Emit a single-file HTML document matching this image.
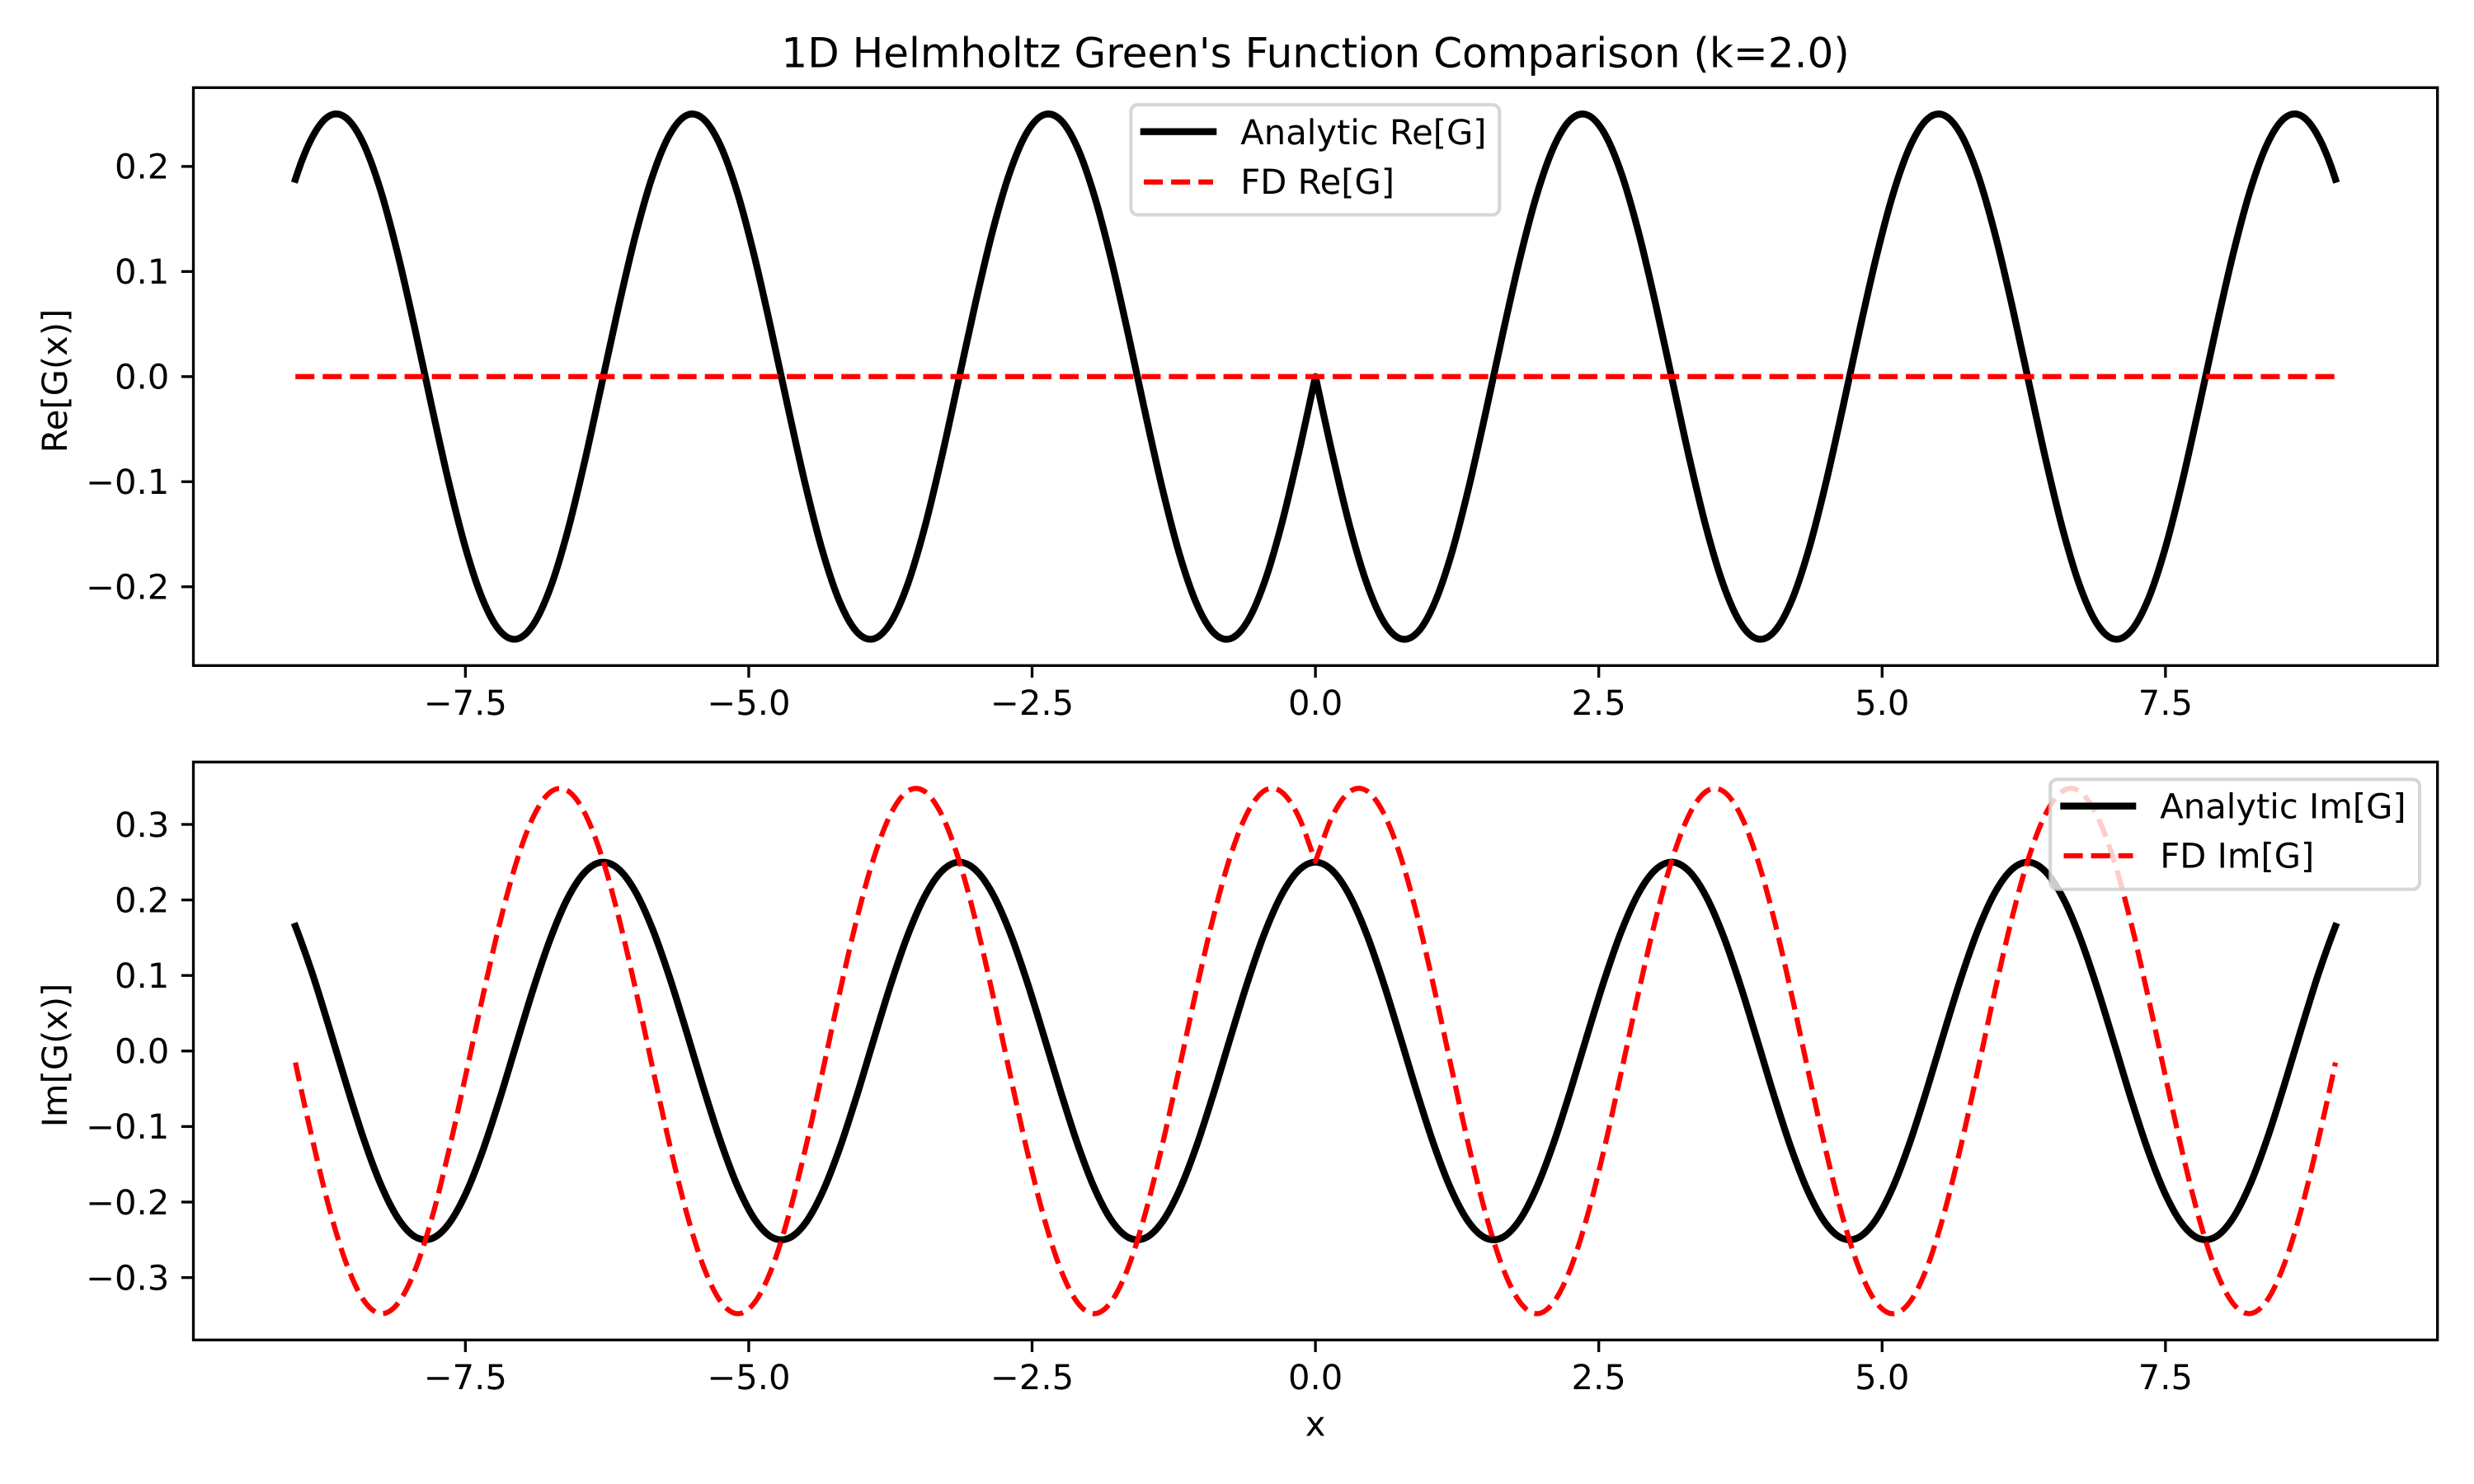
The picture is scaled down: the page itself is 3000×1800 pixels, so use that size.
<!DOCTYPE html>
<html lang="en">
<head>
<meta charset="utf-8">
<title>1D Helmholtz Green's Function Comparison</title>
<style>
html,body{margin:0;padding:0;background:#fff;}
svg{display:block;font-family:"DejaVu Sans","Liberation Sans",sans-serif;text-rendering:geometricPrecision;}
text{fill:#000;}
</style>
</head>
<body>
<svg id="chart" xmlns="http://www.w3.org/2000/svg" width="3000" height="1800" viewBox="0 0 3000 1800">
  <rect x="0" y="0" width="3000" height="1800" fill="#fff"/>
  <text x="1595.1" y="81.3" font-size="50" text-anchor="middle">1D Helmholtz Green's Function Comparison (k=2.0)</text>

  <g id="top-series"></g>
  <g id="bottom-series"></g>

  <g id="top-axes"></g>
  <g id="bottom-axes"></g>

  <text transform="translate(81 462) rotate(-90)" font-size="41.67" text-anchor="middle">Re[G(x)]</text>
  <text transform="translate(81 1280) rotate(-90)" font-size="41.67" text-anchor="middle">Im[G(x)]</text>
  <text x="1595.1" y="1741.7" font-size="41.67" text-anchor="middle">x</text>

  <g>
    <rect x="1371.4" y="127.1" width="446.9" height="133.5" rx="8.3" ry="8.3" fill="#fff" fill-opacity="0.8" stroke="#ccc" stroke-opacity="0.8" stroke-width="4.17"/>
    <line x1="1382.7" y1="159.7" x2="1475.3" y2="159.7" stroke="#000" stroke-width="8.33"/>
    <text x="1504.3" y="175" font-size="41.67">Analytic Re[G]</text>
    <line x1="1387" y1="220.7" x2="1471" y2="220.7" stroke="#f00" stroke-width="6.25" stroke-dasharray="23.1 10"/>
    <text x="1504.3" y="235" font-size="41.67">FD Re[G]</text>
  </g>

  <g>
    <rect x="2486.2" y="945.3" width="447.9" height="133.4" rx="8.3" ry="8.3" fill="#fff" fill-opacity="0.8" stroke="#ccc" stroke-opacity="0.8" stroke-width="4.17"/>
    <line x1="2498.3" y1="977.7" x2="2590.3" y2="977.7" stroke="#000" stroke-width="8.33"/>
    <text x="2619.3" y="992.6" font-size="41.67">Analytic Im[G]</text>
    <line x1="2502.5" y1="1038" x2="2586.5" y2="1038" stroke="#f00" stroke-width="6.25" stroke-dasharray="23.1 10"/>
    <text x="2619.3" y="1052.7" font-size="41.67">FD Im[G]</text>
  </g>
</svg>

<script>
const xValues = [-9,-8.85,-8.7,-8.55,-8.4,-8.25,-8.1,-7.95,-7.8,-7.65,-7.5,-7.35,-7.2,-7.05,-6.9,-6.75,-6.6,-6.45,-6.3,-6.15,-6,-5.85,-5.7,-5.55,-5.4,-5.25,-5.1,-4.95,-4.8,-4.65,-4.5,-4.35,-4.2,-4.05,-3.9,-3.75,-3.6,-3.45,-3.3,-3.15,-3,-2.85,-2.7,-2.55,-2.4,-2.25,-2.1,-1.95,-1.8,-1.65,-1.5,-1.35,-1.2,-1.05,-0.9,-0.75,-0.6,-0.45,-0.3,-0.15,0,0.15,0.3,0.45,0.6,0.75,0.9,1.05,1.2,1.35,1.5,1.65,1.8,1.95,2.1,2.25,2.4,2.55,2.7,2.85,3,3.15,3.3,3.45,3.6,3.75,3.9,4.05,4.2,4.35,4.5,4.65,4.8,4.95,5.1,5.25,5.4,5.55,5.7,5.85,6,6.15,6.3,6.45,6.6,6.75,6.9,7.05,7.2,7.35,7.5,7.65,7.8,7.95,8.1,8.25,8.4,8.55,8.7,8.85,9];

const analyticRe = [0.1877,0.2281,0.2482,0.2460,0.2219,0.1779,0.1181,0.0477,-0.0269,-0.0992,-0.1626,-0.2114,-0.2414,-0.2498,-0.2359,-0.2009,-0.1480,-0.0819,-0.0084,0.0658,0.1341,0.1905,0.2298,0.2486,0.2452,0.2199,0.1750,0.1144,0.0436,-0.0311,-0.1030,-0.1657,-0.2137,-0.2425,-0.2496,-0.2345,-0.1984,-0.1446,-0.0779,-0.0042,0.0699,0.1377,0.1932,0.2315,0.2490,0.2444,0.2179,0.1719,0.1106,0.0394,-0.0353,-0.1068,-0.1689,-0.2158,-0.2435,-0.2494,-0.2330,-0.1958,-0.1412,-0.0739,0,-0.0739,-0.1412,-0.1958,-0.2330,-0.2494,-0.2435,-0.2158,-0.1689,-0.1068,-0.0353,0.0394,0.1106,0.1719,0.2179,0.2444,0.2490,0.2315,0.1932,0.1377,0.0699,-0.0042,-0.0779,-0.1446,-0.1984,-0.2345,-0.2496,-0.2425,-0.2137,-0.1657,-0.1030,-0.0311,0.0436,0.1144,0.1750,0.2199,0.2452,0.2486,0.2298,0.1905,0.1341,0.0658,-0.0084,-0.0819,-0.1480,-0.2009,-0.2359,-0.2498,-0.2414,-0.2114,-0.1626,-0.0992,-0.0269,0.0477,0.1181,0.1779,0.2219,0.2460,0.2482,0.2281,0.1877];

const fdRe = [0,0,0,0,0,0,0,0,0,0,0,0,0,0,0,0,0,0,0,0,0,0,0,0,0,0,0,0,0,0,0,0,0,0,0,0,0,0,0,0,0,0,0,0,0,0,0,0,0,0,0,0,0,0,0,0,0,0,0,0,0,0,0,0,0,0,0,0,0,0,0,0,0,0,0,0,0,0,0,0,0,0,0,0,0,0,0,0,0,0,0,0,0,0,0,0,0,0,0,0,0,0,0,0,0,0,0,0,0,0,0,0,0,0,0,0,0,0,0,0,0];

const analyticIm = [0.1651,0.1023,0.0302,-0.0444,-0.1152,-0.1756,-0.2203,-0.2454,-0.2485,-0.2295,-0.1899,-0.1334,-0.0650,0.0093,0.0827,0.1487,0.2015,0.2362,0.2499,0.2412,0.2110,0.1619,0.0984,0.0261,-0.0486,-0.1189,-0.1786,-0.2223,-0.2462,-0.2481,-0.2278,-0.1872,-0.1298,-0.0609,0.0135,0.0867,0.1521,0.2039,0.2376,0.2500,0.2400,0.2087,0.1587,0.0945,0.0219,-0.0527,-0.1226,-0.1815,-0.2242,-0.2469,-0.2475,-0.2260,-0.1843,-0.1262,-0.0568,0.0177,0.0906,0.1554,0.2063,0.2388,0.25,0.2388,0.2063,0.1554,0.0906,0.0177,-0.0568,-0.1262,-0.1843,-0.2260,-0.2475,-0.2469,-0.2242,-0.1815,-0.1226,-0.0527,0.0219,0.0945,0.1587,0.2087,0.2400,0.2500,0.2376,0.2039,0.1521,0.0867,0.0135,-0.0609,-0.1298,-0.1872,-0.2278,-0.2481,-0.2462,-0.2223,-0.1786,-0.1189,-0.0486,0.0261,0.0984,0.1619,0.2110,0.2412,0.2499,0.2362,0.2015,0.1487,0.0827,0.0093,-0.0650,-0.1334,-0.1899,-0.2295,-0.2485,-0.2454,-0.2203,-0.1756,-0.1152,-0.0444,0.0302,0.1023,0.1651];

const fdIm = [-0.0152,-0.1171,-0.2089,-0.2816,-0.3294,-0.3476,-0.3349,-0.2923,-0.2235,-0.1347,-0.0339,0.0698,0.1674,0.2500,0.3103,0.3428,0.3448,0.3160,0.2589,0.1787,0.0826,-0.0211,-0.1226,-0.2134,-0.2851,-0.3312,-0.3478,-0.3333,-0.2891,-0.2190,-0.1293,-0.0282,0.0756,0.1726,0.2540,0.3130,0.3438,0.3439,0.3136,0.2549,0.1735,0.0768,-0.0269,-0.1283,-0.2179,-0.2884,-0.3330,-0.3478,-0.3316,-0.2858,-0.2144,-0.1239,-0.0222,0.0812,0.1776,0.2581,0.3154,0.3447,0.3431,0.3109,0.2509,0.3109,0.3431,0.3447,0.3154,0.2581,0.1776,0.0812,-0.0222,-0.1239,-0.2144,-0.2858,-0.3316,-0.3478,-0.3330,-0.2884,-0.2179,-0.1283,-0.0269,0.0768,0.1735,0.2549,0.3136,0.3439,0.3438,0.3130,0.2540,0.1726,0.0756,-0.0282,-0.1293,-0.2190,-0.2891,-0.3333,-0.3478,-0.3312,-0.2851,-0.2134,-0.1226,-0.0211,0.0826,0.1787,0.2589,0.3160,0.3448,0.3428,0.3103,0.2500,0.1674,0.0698,-0.0339,-0.1347,-0.2235,-0.2923,-0.3349,-0.3476,-0.3294,-0.2816,-0.2089,-0.1171,-0.0152];

const xTicks = [-7.5,-5,-2.5,0,2.5,5,7.5];
const xTickLabels = ["\u22127.5","\u22125.0","\u22122.5","0.0","2.5","5.0","7.5"];
const topYTicks = [-0.2,-0.1,0,0.1,0.2];
const topYTickLabels = ["\u22120.2","\u22120.1","0.0","0.1","0.2"];
const bottomYTicks = [-0.3,-0.2,-0.1,0,0.1,0.2,0.3];
const bottomYTickLabels = ["\u22120.3","\u22120.2","\u22120.1","0.0","0.1","0.2","0.3"];

const SVG_NS = "http://www.w3.org/2000/svg";
const plotLeft = 234.5, plotRight = 2955.7;
const topPanel = {t:106.3, b:807.3, yMin:-0.275, yMax:0.275};
const bottomPanel = {t:924.3, b:1625.3, yMin:-0.3826, yMax:0.3826};

function xScale(v){ return plotLeft + (v + 9.9) / 19.8 * (plotRight - plotLeft); }
function yScaleFor(p){ return function(v){ return p.b - (v - p.yMin) / (p.yMax - p.yMin) * (p.b - p.t); }; }

function make(tag, attrs){
  const el = document.createElementNS(SVG_NS, tag);
  for (const k in attrs) el.setAttribute(k, attrs[k]);
  return el;
}

function curvePath(xs, ys, yScale){
  const n = xs.length, d = [];
  for (let i = 0; i < n - 1; i++) d.push((ys[i+1] - ys[i]) / (xs[i+1] - xs[i]));
  const tanL = [], tanR = [];
  for (let i = 0; i < n; i++) {
    if (i === 0) {
      const t0 = 2 * d[0] - (d[0] + d[1]) / 2;
      tanL.push(t0); tanR.push(t0);
      continue;
    }
    if (i === n - 1) {
      const t1 = 2 * d[n-2] - (d[n-2] + d[n-3]) / 2;
      tanL.push(t1); tanR.push(t1);
      continue;
    }
    const cusp = d[i-1] * d[i] < 0 && Math.abs(d[i] - d[i-1]) > 0.5;
    const avg = (d[i-1] + d[i]) / 2;
    tanL.push(cusp ? d[i-1] : avg);
    tanR.push(cusp ? d[i] : avg);
  }
  let path = "M" + xScale(xs[0]).toFixed(2) + " " + yScale(ys[0]).toFixed(2);
  for (let i = 0; i < n - 1; i++) {
    const h = (xs[i+1] - xs[i]) / 3;
    path += "C" + xScale(xs[i] + h).toFixed(2) + " " + yScale(ys[i] + h * tanR[i]).toFixed(2) +
            " " + xScale(xs[i+1] - h).toFixed(2) + " " + yScale(ys[i+1] - h * tanL[i+1]).toFixed(2) +
            " " + xScale(xs[i+1]).toFixed(2) + " " + yScale(ys[i+1]).toFixed(2);
  }
  return path;
}

function drawSolid(group, ys, yScale, name){
  const el = make("path", {d:curvePath(xValues, ys, yScale), fill:"none", stroke:"#000", "stroke-width":8.33, "stroke-linecap":"square", "stroke-linejoin":"round"});
  
  
  group.appendChild(el);
}

function drawDashed(group, ys, yScale, name){
  const el = make("path", {d:curvePath(xValues, ys, yScale), fill:"none", stroke:"#f00", "stroke-width":6.25, "stroke-dasharray":"23.1 10", "stroke-linecap":"butt", "stroke-linejoin":"round"});
  
  
  group.appendChild(el);
}

function drawAxes(group, panel, yTicks, yLabels, yScale){
  const frame = make("rect", {x:plotLeft, y:panel.t, width:plotRight - plotLeft, height:panel.b - panel.t, fill:"none", stroke:"#000", "stroke-width":3.33});
  
  
  group.appendChild(frame);

  xTicks.forEach(function(v, i){
    const px = xScale(v);
    const tick = make("line", {x1:px, x2:px, y1:panel.b, y2:panel.b + 14.6, stroke:"#000", "stroke-width":3.33});
    
    
    group.appendChild(tick);
    const label = make("text", {x:px, y:panel.b + 59.6, "font-size":41.67, "text-anchor":"middle"});
    
    
    label.textContent = xTickLabels[i];
    group.appendChild(label);
  });

  yTicks.forEach(function(v, i){
    const py = yScale(v);
    const tick = make("line", {x1:plotLeft - 14.6, x2:plotLeft, y1:py, y2:py, stroke:"#000", "stroke-width":3.33});
    
    
    group.appendChild(tick);
    const label = make("text", {x:plotLeft - 29.2, y:py + 14.8, "font-size":41.67, "text-anchor":"end"});
    
    
    label.textContent = yLabels[i];
    group.appendChild(label);
  });
}

const topY = yScaleFor(topPanel);
const bottomY = yScaleFor(bottomPanel);
const topSeries = document.getElementById("top-series");
const bottomSeries = document.getElementById("bottom-series");

drawSolid(topSeries, analyticRe, topY, 'analytic-re-line');
drawDashed(topSeries, fdRe, topY, 'fd-re-line');
drawSolid(bottomSeries, analyticIm, bottomY, 'analytic-im-line');
drawDashed(bottomSeries, fdIm, bottomY, 'fd-im-line');

drawAxes(document.getElementById("top-axes"), topPanel, topYTicks, topYTickLabels, topY);
drawAxes(document.getElementById("bottom-axes"), bottomPanel, bottomYTicks, bottomYTickLabels, bottomY);
</script>
</body>
</html>
